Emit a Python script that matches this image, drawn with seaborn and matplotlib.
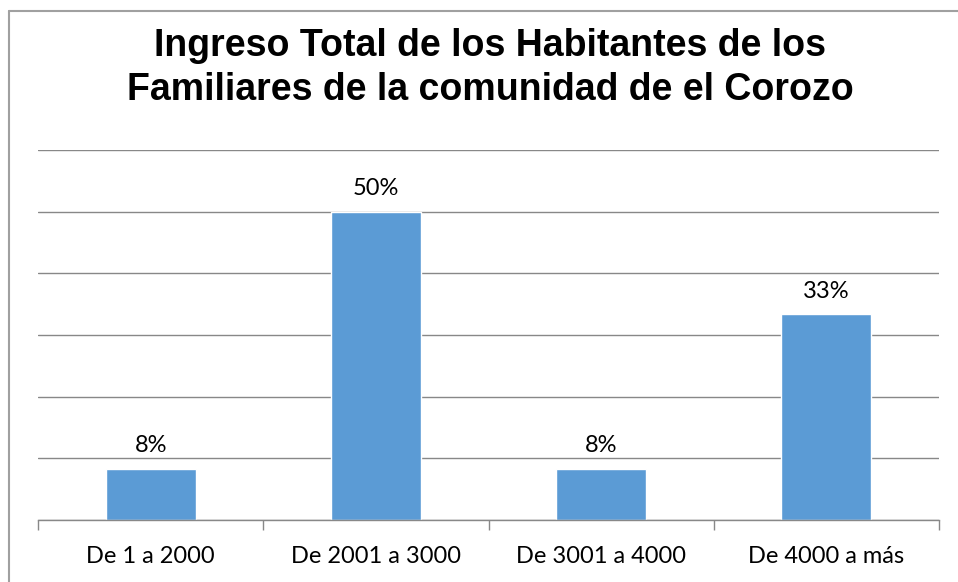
import numpy as np
import pandas as pd
import seaborn as sns
import matplotlib.pyplot as plt
from matplotlib.lines import Line2D

categorias = ["De 1 a 2000", "De 2001 a 3000", "De 3001 a 4000", "De 4000 a más"]
porcentajes = [8.33, 50.0, 8.33, 33.33]
etiquetas = ["8%", "50%", "8%", "33%"]

df = pd.DataFrame({"Rango": categorias, "Porcentaje": porcentajes})

sns.set_theme(style="white")
plt.rcParams['font.family'] = ['Lato', 'DejaVu Sans']

fig = plt.figure(figsize=(9.58, 5.82), dpi=100)
ax = fig.add_axes([38 / 958, 62 / 582, 901 / 958, 370 / 582])

sns.barplot(data=df, x="Rango", y="Porcentaje", color="#5B9BD5", width=0.4,
            saturation=1, ax=ax)

ax.set_xlim(-0.5, 3.5)
ax.set_ylim(0, 60)
ax.set_yticks(np.arange(0, 61, 10))
ax.set_yticklabels([])
ax.tick_params(axis="y", length=0)
ax.yaxis.grid(True, color="#888888", linewidth=1)
ax.set_axisbelow(True)
for s in ["top", "right", "left"]:
    ax.spines[s].set_visible(False)
ax.spines["bottom"].set_color("#888888")
ax.spines["bottom"].set_linewidth(1)

ax.set_xticks([0, 1, 2, 3])
ax.set_xticklabels(categorias, fontsize=17, color="black")
ax.tick_params(axis="x", which="major", length=0, pad=19)
ax.set_xticks([-0.5, 0.5, 1.5, 2.5, 3.5], minor=True)
ax.tick_params(axis="x", which="minor", bottom=True, length=7, color="#888888",
               width=1, direction="out")
ax.set_xlabel("")
ax.set_ylabel("")

for i, (v, t) in enumerate(zip(porcentajes, etiquetas)):
    ax.annotate(t, (i, v), xytext=(0, 9), textcoords="offset points",
                ha="center", va="bottom", fontsize=17, color="black")

fig.text(490 / 958, 1 - 68 / 582,
         "Ingreso Total de los Habitantes de los\nFamiliares de la comunidad de el Corozo",
         ha="center", va="center", fontsize=27, fontweight="bold", color="black",
         family=["Liberation Sans", "DejaVu Sans"], linespacing=1.25)

fig.add_artist(Line2D([8.5 / 958, 8.5 / 958], [0, 1 - 10.5 / 582], color="#A0A0A0",
                      linewidth=1.5, transform=fig.transFigure))
fig.add_artist(Line2D([8.5 / 958, 1], [1 - 10.5 / 582, 1 - 10.5 / 582], color="#A0A0A0",
                      linewidth=1.5, transform=fig.transFigure))

fig.savefig("out.png", dpi=100)
